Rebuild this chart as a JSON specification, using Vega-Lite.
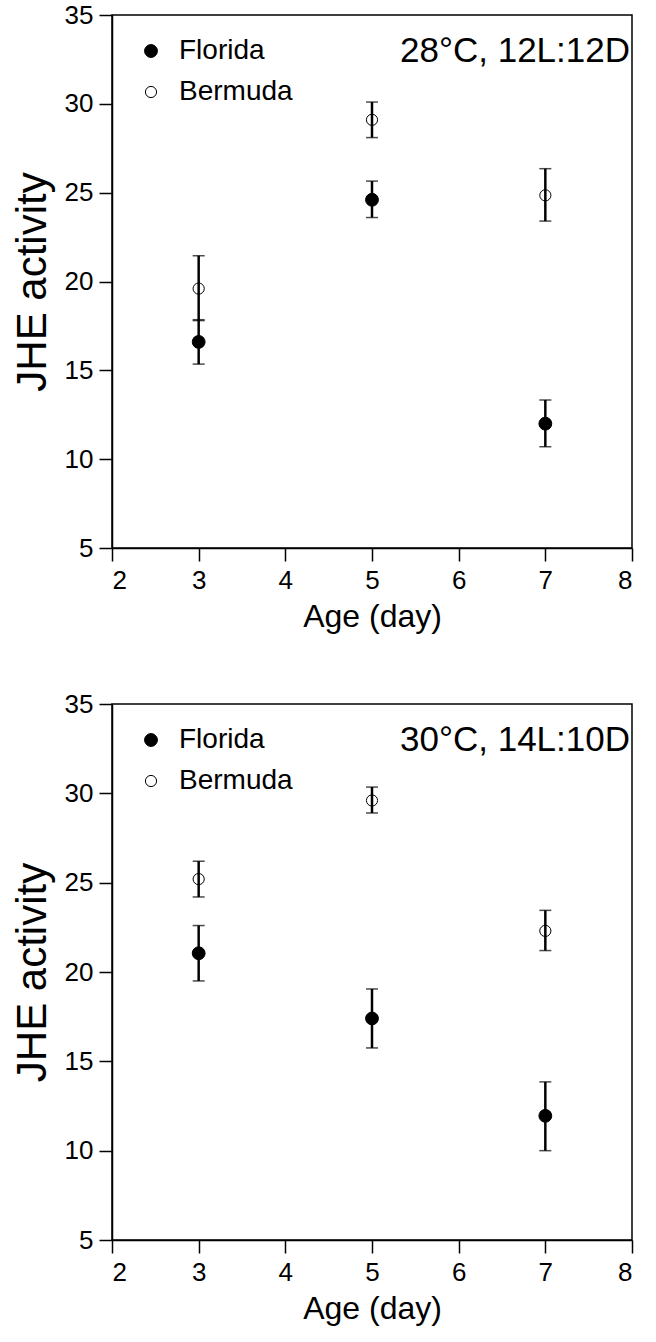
{
  "$schema": "https://vega.github.io/schema/vega-lite/v6.json",
  "background": "white",
  "padding": {"left": 10, "top": 1, "right": 6, "bottom": 10},
  "spacing": 57,
  "config": {
    "font": "Liberation Sans",
    "view": {"stroke": "black", "strokeWidth": 1.5},
    "axis": {
      "grid": false,
      "domainColor": "black",
      "domainWidth": 1.5,
      "tickColor": "black",
      "tickWidth": 1.5,
      "tickSize": 13,
      "labelColor": "black",
      "labelFontSize": 26,
      "labelPadding": 6,
      "titleFontWeight": "normal",
      "titleColor": "black"
    },
    "legend": {
      "title": null,
      "labelFontSize": 28,
      "labelColor": "black",
      "symbolType": "circle",
      "symbolStrokeColor": "black",
      "symbolStrokeWidth": 1,
      "labelOffset": 14,
      "rowPadding": 13
    }
  },
  "datasets": {
    "jhe": [
      {"panel": "A", "site": "Florida", "age": 3, "mean": 16.6, "lo": 15.35, "hi": 17.85},
      {"panel": "A", "site": "Bermuda", "age": 3, "mean": 19.6, "lo": 17.8, "hi": 21.45},
      {"panel": "A", "site": "Florida", "age": 5, "mean": 24.6, "lo": 23.6, "hi": 25.65},
      {"panel": "A", "site": "Bermuda", "age": 5, "mean": 29.1, "lo": 28.1, "hi": 30.1},
      {"panel": "A", "site": "Florida", "age": 7, "mean": 12.0, "lo": 10.7, "hi": 13.33},
      {"panel": "A", "site": "Bermuda", "age": 7, "mean": 24.85, "lo": 23.4, "hi": 26.35},
      {"panel": "B", "site": "Florida", "age": 3, "mean": 21.05, "lo": 19.5, "hi": 22.6},
      {"panel": "B", "site": "Bermuda", "age": 3, "mean": 25.2, "lo": 24.2, "hi": 26.2},
      {"panel": "B", "site": "Florida", "age": 5, "mean": 17.4, "lo": 15.75, "hi": 19.05},
      {"panel": "B", "site": "Bermuda", "age": 5, "mean": 29.6, "lo": 28.9, "hi": 30.35},
      {"panel": "B", "site": "Florida", "age": 7, "mean": 11.95, "lo": 10.0, "hi": 13.85},
      {"panel": "B", "site": "Bermuda", "age": 7, "mean": 22.3, "lo": 21.2, "hi": 23.45}
    ],
    "conditions": [
      {"panel": "A", "label": "28°C, 12L:12D"},
      {"panel": "B", "label": "30°C, 14L:10D"}
    ]
  },
  "resolve": {"scale": {"fill": "independent", "size": "independent", "stroke": "independent"}, "legend": {"fill": "independent", "size": "independent", "stroke": "independent"}},
  "vconcat": [
    {
      "width": 520,
      "height": 533,
      "layer": [
        {
          "data": {"name": "jhe"},
          "transform": [{"filter": "datum.panel == 'A'"}],
          "mark": {"type": "rule", "strokeWidth": 2.5, "color": "black"},
          "encoding": {
            "x": {"field": "age", "type": "quantitative", "scale": {"domain": [2, 8], "nice": false, "zero": false}, "axis": {"title": "Age (day)", "values": [2, 3, 4, 5, 6, 7, 8], "format": "d", "labelFontSize": 26, "titleFontSize": 32, "titlePadding": 8}},
            "y": {"field": "lo", "type": "quantitative", "scale": {"domain": [5, 35], "nice": false, "zero": false}, "axis": {"title": "JHE activity", "values": [5, 10, 15, 20, 25, 30, 35], "format": "d", "labelFontSize": 26, "titleFontSize": 42, "titlePadding": 10}},
            "y2": {"field": "hi"}
          }
        },
        {
          "data": {"name": "jhe"},
          "transform": [{"filter": "datum.panel == 'A'"}],
          "mark": {"type": "tick", "orient": "horizontal", "size": 12, "thickness": 1.5, "color": "black"},
          "encoding": {
            "x": {"field": "age", "type": "quantitative", "title": "Age (day)", "scale": {"domain": [2, 8], "nice": false, "zero": false}},
            "y": {"field": "lo", "type": "quantitative", "title": "JHE activity", "scale": {"domain": [5, 35], "nice": false, "zero": false}}
          }
        },
        {
          "data": {"name": "jhe"},
          "transform": [{"filter": "datum.panel == 'A'"}],
          "mark": {"type": "tick", "orient": "horizontal", "size": 12, "thickness": 1.5, "color": "black"},
          "encoding": {
            "x": {"field": "age", "type": "quantitative", "title": "Age (day)", "scale": {"domain": [2, 8], "nice": false, "zero": false}},
            "y": {"field": "hi", "type": "quantitative", "title": "JHE activity", "scale": {"domain": [5, 35], "nice": false, "zero": false}}
          }
        },
        {
          "data": {"name": "jhe"},
          "transform": [{"filter": "datum.panel == 'A'"}],
          "mark": {"type": "point", "shape": "circle", "strokeWidth": 1, "opacity": 1, "fillOpacity": 1},
          "encoding": {
            "x": {"field": "age", "type": "quantitative", "title": "Age (day)", "scale": {"domain": [2, 8], "nice": false, "zero": false}},
            "y": {"field": "mean", "type": "quantitative", "title": "JHE activity", "scale": {"domain": [5, 35], "nice": false, "zero": false}},
            "fill": {"field": "site", "type": "nominal", "scale": {"domain": ["Florida", "Bermuda"], "range": ["black", "transparent"]}, "legend": {"orient": "none", "legendX": 25, "legendY": 22}},
            "stroke": {"field": "site", "type": "nominal", "scale": {"domain": ["Florida", "Bermuda"], "range": ["black", "black"]}, "legend": {"orient": "none", "legendX": 25, "legendY": 22}},
            "size": {"field": "site", "type": "nominal", "scale": {"domain": ["Florida", "Bermuda"], "range": [165, 125]}, "legend": {"orient": "none", "legendX": 25, "legendY": 22}}
          }
        },
        {
          "data": {"name": "conditions"},
          "transform": [{"filter": "datum.panel == 'A'"}],
          "mark": {"type": "text", "align": "right", "baseline": "middle", "fontSize": 35, "color": "black", "dx": -2, "dy": 36},
          "encoding": {
            "x": {"datum": 8, "type": "quantitative", "scale": {"domain": [2, 8], "nice": false, "zero": false}},
            "y": {"datum": 35, "type": "quantitative", "scale": {"domain": [5, 35], "nice": false, "zero": false}},
            "text": {"field": "label"}
          }
        }
      ]
    },
    {
      "width": 520,
      "height": 536,
      "layer": [
        {
          "data": {"name": "jhe"},
          "transform": [{"filter": "datum.panel == 'B'"}],
          "mark": {"type": "rule", "strokeWidth": 2.5, "color": "black"},
          "encoding": {
            "x": {"field": "age", "type": "quantitative", "scale": {"domain": [2, 8], "nice": false, "zero": false}, "axis": {"title": "Age (day)", "values": [2, 3, 4, 5, 6, 7, 8], "format": "d", "labelFontSize": 26, "titleFontSize": 32, "titlePadding": 8}},
            "y": {"field": "lo", "type": "quantitative", "scale": {"domain": [5, 35], "nice": false, "zero": false}, "axis": {"title": "JHE activity", "values": [5, 10, 15, 20, 25, 30, 35], "format": "d", "labelFontSize": 26, "titleFontSize": 42, "titlePadding": 10}},
            "y2": {"field": "hi"}
          }
        },
        {
          "data": {"name": "jhe"},
          "transform": [{"filter": "datum.panel == 'B'"}],
          "mark": {"type": "tick", "orient": "horizontal", "size": 12, "thickness": 1.5, "color": "black"},
          "encoding": {
            "x": {"field": "age", "type": "quantitative", "title": "Age (day)", "scale": {"domain": [2, 8], "nice": false, "zero": false}},
            "y": {"field": "lo", "type": "quantitative", "title": "JHE activity", "scale": {"domain": [5, 35], "nice": false, "zero": false}}
          }
        },
        {
          "data": {"name": "jhe"},
          "transform": [{"filter": "datum.panel == 'B'"}],
          "mark": {"type": "tick", "orient": "horizontal", "size": 12, "thickness": 1.5, "color": "black"},
          "encoding": {
            "x": {"field": "age", "type": "quantitative", "title": "Age (day)", "scale": {"domain": [2, 8], "nice": false, "zero": false}},
            "y": {"field": "hi", "type": "quantitative", "title": "JHE activity", "scale": {"domain": [5, 35], "nice": false, "zero": false}}
          }
        },
        {
          "data": {"name": "jhe"},
          "transform": [{"filter": "datum.panel == 'B'"}],
          "mark": {"type": "point", "shape": "circle", "strokeWidth": 1, "opacity": 1, "fillOpacity": 1},
          "encoding": {
            "x": {"field": "age", "type": "quantitative", "title": "Age (day)", "scale": {"domain": [2, 8], "nice": false, "zero": false}},
            "y": {"field": "mean", "type": "quantitative", "title": "JHE activity", "scale": {"domain": [5, 35], "nice": false, "zero": false}},
            "fill": {"field": "site", "type": "nominal", "scale": {"domain": ["Florida", "Bermuda"], "range": ["black", "transparent"]}, "legend": {"orient": "none", "legendX": 25, "legendY": 22}},
            "stroke": {"field": "site", "type": "nominal", "scale": {"domain": ["Florida", "Bermuda"], "range": ["black", "black"]}, "legend": {"orient": "none", "legendX": 25, "legendY": 22}},
            "size": {"field": "site", "type": "nominal", "scale": {"domain": ["Florida", "Bermuda"], "range": [165, 125]}, "legend": {"orient": "none", "legendX": 25, "legendY": 22}}
          }
        },
        {
          "data": {"name": "conditions"},
          "transform": [{"filter": "datum.panel == 'B'"}],
          "mark": {"type": "text", "align": "right", "baseline": "middle", "fontSize": 35, "color": "black", "dx": -2, "dy": 36},
          "encoding": {
            "x": {"datum": 8, "type": "quantitative", "scale": {"domain": [2, 8], "nice": false, "zero": false}},
            "y": {"datum": 35, "type": "quantitative", "scale": {"domain": [5, 35], "nice": false, "zero": false}},
            "text": {"field": "label"}
          }
        }
      ]
    }
  ]
}
